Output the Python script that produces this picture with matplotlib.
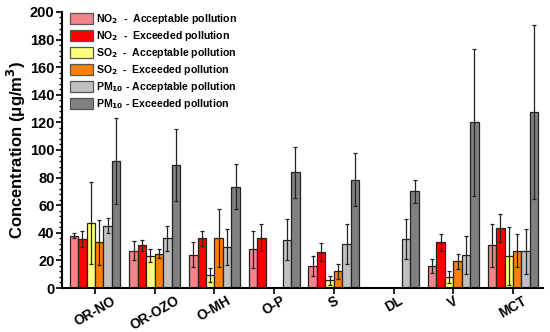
import numpy as np
import matplotlib
matplotlib.use("Agg")
import matplotlib.pyplot as plt
from matplotlib.ticker import MultipleLocator

plt.rcParams["font.family"] = ["Liberation Sans", "DejaVu Sans"]
plt.rcParams["font.weight"] = "bold"
plt.rcParams["mathtext.default"] = "bf"

sites = ["OR-NO", "OR-OZO", "O-MH", "O-P", "S", "DL", "V", "MCT"]

no2_acc = [38, 27, 24, 28, 16, np.nan, 16, 31]
no2_acc_err = [2, 7, 9, 13.5, 7, np.nan, 5, 15.5]
no2_exc = [35.5, 31, 36, 36.5, 26, np.nan, 33, 43.5]
no2_exc_err = [5.5, 4, 5.5, 10, 6.5, np.nan, 6, 10]
so2_acc = [47, 23.5, 9.5, np.nan, 5.5, np.nan, 8, 23]
so2_acc_err = [29.5, 5, 5, np.nan, 3.5, np.nan, 4.5, 21]
so2_exc = [33, 25, 36, np.nan, 12, np.nan, 19.5, 27]
so2_exc_err = [16.5, 3, 21, np.nan, 5.5, np.nan, 5.5, 12]
pm10_acc = [45, 36, 30, 35, 32, 35.5, 24, 26.5]
pm10_acc_err = [5.5, 9, 13, 15, 14.5, 14.5, 14, 16]
pm10_exc = [92, 89, 73.5, 84, 78.5, 70, 120, 127.5]
pm10_exc_err = [31, 26, 16, 18.5, 19, 8.5, 53, 63]

series = [
    (no2_acc, no2_acc_err, "#F4848A", "NO$_2$  -  Acceptable pollution"),
    (no2_exc, no2_exc_err, "#FF0000", "NO$_2$  -  Exceeded pollution"),
    (so2_acc, so2_acc_err, "#FFFF80", "SO$_2$  -  Acceptable pollution"),
    (so2_exc, so2_exc_err, "#FF8000", "SO$_2$  -  Exceeded pollution"),
    (pm10_acc, pm10_acc_err, "#C0C0C0", "PM$_{10}$ - Acceptable pollution"),
    (pm10_exc, pm10_exc_err, "#808080", "PM$_{10}$ - Exceeded pollution"),
]

fig = plt.figure(figsize=(5.5, 3.32), dpi=100)
ax = fig.add_axes([0.113, 0.1325, 0.874, 0.8315])

x = np.arange(len(sites))
width = 0.85 / 6
for i, (vals, errs, color, label) in enumerate(series):
    pos = x + (i - 2.5) * width
    ax.bar(pos, vals, width, color=color, edgecolor="#222222", linewidth=0.9,
           label=label, zorder=2)
    ax.errorbar(pos, vals, yerr=errs, fmt="none", ecolor="#222222",
                elinewidth=0.9, capsize=1.5, capthick=0.9, zorder=3)

ax.set_xlim(-0.55, 7.5)
ax.set_ylim(0, 200)
ax.yaxis.set_major_locator(MultipleLocator(20))
ax.yaxis.set_minor_locator(MultipleLocator(4))
ax.set_xticks(x)
ax.set_xticklabels(sites, rotation=30, fontsize=9.8, fontweight="bold")
ax.tick_params(axis="y", which="major", length=4, width=1.2, labelsize=10.5, pad=1.5)
ax.tick_params(axis="y", which="minor", length=2.5, width=1)
ax.tick_params(axis="x", which="major", length=4, width=1.2, pad=0)
for s in ["top", "right"]:
    ax.spines[s].set_visible(False)
for s in ["left", "bottom"]:
    ax.spines[s].set_linewidth(1.5)

ax.set_ylabel("Concentration (μg/m$^3$)", fontsize=12, fontweight="bold", labelpad=1)

leg = ax.legend(loc="upper left", bbox_to_anchor=(0.0, 1.025), frameon=False,
                fontsize=7.6, handlelength=2.2, handleheight=1.25,
                labelspacing=0.28, handletextpad=0.35, borderaxespad=0.3)
for h in leg.legend_handles:
    h.set_edgecolor("#555555")

fig.savefig("out.png", dpi=100)
